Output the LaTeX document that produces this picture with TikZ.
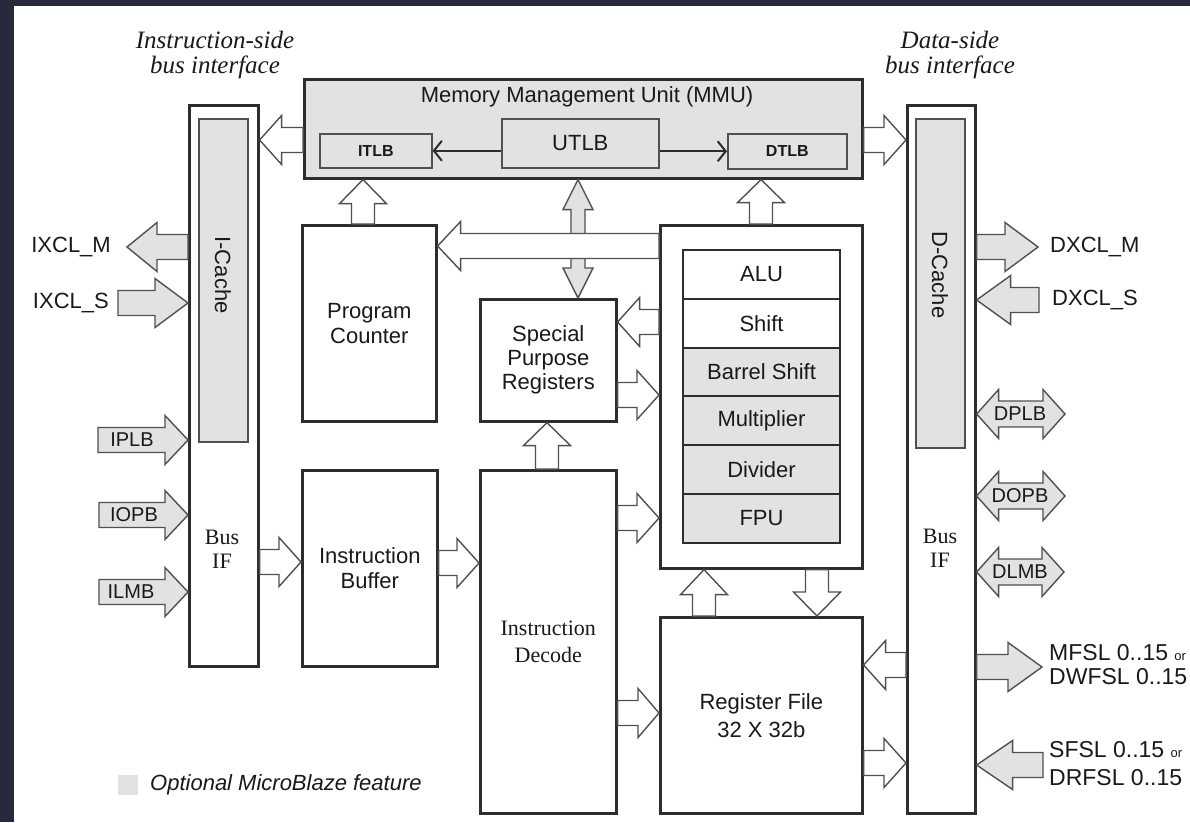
\documentclass[tikz,border=0pt]{standalone}
\usepackage{fontspec}
\setmainfont{Liberation Serif}
\setsansfont{Liberation Sans}
\usetikzlibrary{calc,arrows.meta}
\definecolor{frame}{RGB}{39,41,61}
\definecolor{opt}{RGB}{226,226,226}
\definecolor{edge}{RGB}{45,45,45}
\definecolor{aedge}{RGB}{80,80,80}
\definecolor{ink}{RGB}{25,25,25}
\newcommand\fs[2]{\fontsize{#1}{#2}\selectfont}
\def\sw{12.5pt}
\def\hw{24.5pt}
% horizontal block arrow: fill, head length, tail, tip
\newcommand\harr[4]{%
  \draw[blk,fill=#1] let \p1=#3, \p2=#4, \n1={sign(\x2-\x1)*#2} in
   (\x1,{\y1+\sw}) -- ({\x2-\n1*1pt},{\y1+\sw}) -- ({\x2-\n1*1pt},{\y1+\hw}) -- (\x2,\y1)
   -- ({\x2-\n1*1pt},{\y1-\hw}) -- ({\x2-\n1*1pt},{\y1-\sw}) -- (\x1,{\y1-\sw}) -- cycle;}
% vertical block arrow
\newcommand\varr[4]{%
  \draw[blk,fill=#1] let \p1=#3, \p2=#4, \n1={sign(\y2-\y1)*#2} in
   ({\x1+11.5pt},\y1) -- ({\x1+11.5pt},{\y2-\n1*1pt}) -- ({\x1+23.5pt},{\y2-\n1*1pt}) -- (\x1,\y2)
   -- ({\x1-23.5pt},{\y2-\n1*1pt}) -- ({\x1-11.5pt},{\y2-\n1*1pt}) -- ({\x1-11.5pt},\y1) -- cycle;}
% horizontal double block arrow: fill, head length, left tip, right tip
\newcommand\dharr[4]{%
  \draw[blk,fill=#1] let \p1=#3, \p2=#4 in
   (\x1,\y1) -- ({\x1+#2pt},{\y1+\hw}) -- ({\x1+#2pt},{\y1+13pt}) -- ({\x2-#2pt},{\y1+13pt})
   -- ({\x2-#2pt},{\y1+\hw}) -- (\x2,\y1) -- ({\x2-#2pt},{\y1-\hw}) -- ({\x2-#2pt},{\y1-13pt})
   -- ({\x1+#2pt},{\y1-13pt}) -- ({\x1+#2pt},{\y1-\hw}) -- cycle;}
% vertical double block arrow (narrow): top tip, bottom tip
\newcommand\dvarr[2]{%
  \draw[blk,fill=opt] let \p1=#1, \p2=#2 in
   (\x1,\y1) -- ({\x1+15pt},{\y1-30pt}) -- ({\x1+7pt},{\y1-30pt}) -- ({\x1+7pt},{\y2+30pt})
   -- ({\x1+15pt},{\y2+30pt}) -- (\x1,\y2) -- ({\x1-15pt},{\y2+30pt}) -- ({\x1-7pt},{\y2+30pt})
   -- ({\x1-7pt},{\y1-30pt}) -- ({\x1-15pt},{\y1-30pt}) -- cycle;}
\begin{document}
\begin{tikzpicture}[x=1pt,y=-1pt,
  blk/.style={draw=aedge, line width=1.4pt, line join=miter},
  box/.style={draw=edge, line width=2.6pt, inner sep=0pt, anchor=north west, text=ink,
    font=\sffamily\fs{22}{25}, align=center},
  sub/.style={box, draw=aedge, line width=1.6pt, fill=opt},
  row/.style={box, line width=2pt},
  lbl/.style={inner sep=0pt, text=ink, font=\sffamily\fs{22}{25}, align=center},
  albl/.style={lbl, font=\sffamily\fs{20}{22}},
  serif/.style={inner sep=0pt, text=ink, font=\rmfamily\fs{22}{24}, align=center},
  title/.style={inner sep=0pt, text=ink, font=\rmfamily\itshape\fs{25}{25}, align=center},
  thin/.style={draw=edge, line width=2pt, -{Straight Barb[length=8pt,width=20pt,line width=2pt]}}]
\fill[frame] (0,0) rectangle (1190,822);
\fill[white] (14,6) rectangle (1190,822);
\useasboundingbox (0,0) rectangle (1190,822);

% titles
\node[title] (ititle) at (215,55) {Instruction-side\\bus interface};
\node[title] (dtitle) at (950,55) {Data-side\\bus interface};

% instruction side
\node[box, minimum width=69, minimum height=561] (iout) at (188,104) {};
\node[sub, minimum width=49, minimum height=323] (icache) at (198,118) {};
\node[lbl, rotate=-90] (icachelbl) at (223,275) {I-Cache};
\node[serif] (ibus) at (222,549) {Bus\\IF};

% data side
\node[box, minimum width=68, minimum height=708] (dout) at (906,104) {};
\node[sub, minimum width=49, minimum height=329] (dcache) at (915,118) {};
\node[lbl, rotate=-90] (dcachelbl) at (940,275) {D-Cache};
\node[serif] (dbus) at (940,548) {Bus\\IF};

% MMU
\node[box, fill=opt, minimum width=558, minimum height=99] (mmu) at (303,78) {};
\node[lbl] (mmulbl) at (587,97) {Memory Management Unit (MMU)};
\node[sub, minimum width=112, minimum height=34, font=\sffamily\bfseries\fs{16}{18}] (itlb) at (319,133) {ITLB};
\node[sub, minimum width=157, minimum height=49, font=\sffamily\fs{22}{25}] (utlb) at (501,118) {UTLB};
\node[sub, minimum width=119, minimum height=35, font=\sffamily\bfseries\fs{16}{18}] (dtlb) at (727,133) {DTLB};
\draw[thin] (utlb.west |- itlb.east) -- (itlb.east);
\draw[thin] (utlb.east |- dtlb.west) -- (dtlb.west);

% core blocks
\node[box, minimum width=134, minimum height=196] (pc) at (301,224) {Program\\Counter};
\node[box, minimum width=135, minimum height=196] (ibuf) at (301,469) {Instruction\\Buffer};
\node[box, minimum width=136, minimum height=122, font=\sffamily\fs{22}{24}] (spr) at (479,298) {Special\\Purpose\\Registers};
\node[box, minimum width=136, minimum height=343, font=\rmfamily\fs{22}{27}] (idec) at (479,469) {Instruction\\Decode};
\node[box, minimum width=202, minimum height=343] (eu) at (659,224) {};
\node[row, fill=white, minimum width=157, minimum height=48.8] (alu) at (682,249) {ALU};
\node[row, fill=white, minimum width=157, minimum height=48.8] (shift) at (682,297.8) {Shift};
\node[row, fill=opt, minimum width=157, minimum height=48.8] (barrel) at (682,346.6) {Barrel Shift};
\node[row, fill=opt, minimum width=157, minimum height=48.8] (mult) at (682,395.4) {Multiplier};
\node[row, fill=opt, minimum width=157, minimum height=48.8] (div) at (682,444.2) {Divider};
\node[row, fill=opt, minimum width=157, minimum height=48.8] (fpu) at (682,493) {FPU};
\node[box, minimum width=202, minimum height=196, font=\sffamily\fs{22}{28}] (rf) at (659,616) {Register File\\32 X 32b};

% internal block arrows
\harr{white}{22}{(mmu.west |- 0,140)}{(iout.east |- 0,140)}
\harr{white}{22}{(mmu.east |- 0,140)}{(dout.west |- 0,140)}
\varr{white}{24}{(363,0 |- pc.north)}{(363,0 |- mmu.south)}
\varr{white}{23}{(761,0 |- eu.north)}{(761,0 |- mmu.south)}
\dvarr{(578,0 |- mmu.south)}{(578,0 |- spr.north)}
\harr{white}{23}{(eu.west |- 0,246)}{(pc.east |- 0,246)}
\harr{white}{22}{(eu.west |- 0,322)}{(spr.east |- 0,322)}
\harr{white}{22}{(spr.east |- 0,395)}{(eu.west |- 0,395)}
\varr{white}{23}{(547,0 |- idec.north)}{(547,0 |- spr.south)}
\harr{white}{22}{(idec.east |- 0,518)}{(eu.west |- 0,518)}
\harr{white}{22}{(iout.east |- 0,562)}{(ibuf.west |- 0,562)}
\harr{white}{22}{(ibuf.east |- 0,563)}{(idec.west |- 0,563)}
\varr{white}{25}{(704,0 |- rf.north)}{(704,0 |- eu.south)}
\varr{white}{24}{(817,0 |- eu.south)}{(817,0 |- rf.north)}
\harr{white}{21}{(idec.east |- 0,713)}{(rf.west |- 0,713)}
\harr{white}{22}{(dout.west |- 0,665)}{(rf.east |- 0,665)}
\harr{white}{22}{(rf.east |- 0,763)}{(dout.west |- 0,763)}

% instruction side external
\coordinate (ixclmtip) at (127,247);
\coordinate (ixclstail) at (118,303);
\coordinate (iplbtail) at (98,440);
\coordinate (iopbtail) at (99,515);
\coordinate (ilmbtail) at (99,592);
\harr{opt}{30}{(iout.west |- ixclmtip)}{(ixclmtip)}
\harr{opt}{33}{(ixclstail)}{(iout.west |- ixclstail)}
\harr{opt}{23}{(iplbtail)}{(iout.west |- iplbtail)}
\harr{opt}{23}{(iopbtail)}{(iout.west |- iopbtail)}
\harr{opt}{23}{(ilmbtail)}{(iout.west |- ilmbtail)}
\node[lbl, anchor=east] (ixclm) at (111,247) {IXCL\_M};
\node[lbl, anchor=east] (ixcls) at (109,303) {IXCL\_S};
\node[albl] (iplb) at (132,440) {IPLB};
\node[albl] (iopb) at (134,515) {IOPB};
\node[albl] (ilmb) at (131,592) {ILMB};

% data side external
\coordinate (dxclmtip) at (1038,247);
\coordinate (dxclstail) at (1039,300);
\coordinate (dplbtip) at (1065,414);
\coordinate (dopbtip) at (1065,496);
\coordinate (dlmbtip) at (1064,572);
\coordinate (mfsltip) at (1042,667);
\coordinate (sfsltail) at (1043,765);
\harr{opt}{33}{(dout.east |- dxclmtip)}{(dxclmtip)}
\harr{opt}{34}{(dxclstail)}{(dout.east |- dxclstail)}
\dharr{opt}{22}{(dout.east |- dplbtip)}{(dplbtip)}
\dharr{opt}{22}{(dout.east |- dopbtip)}{(dopbtip)}
\dharr{opt}{22}{(dout.east |- dlmbtip)}{(dlmbtip)}
\harr{opt}{34}{(dout.east |- mfsltip)}{(mfsltip)}
\harr{opt}{36}{(sfsltail)}{(dout.east |- sfsltail)}
\node[lbl, anchor=west] (dxclm) at (1050,247) {DXCL\_M};
\node[lbl, anchor=west] (dxcls) at (1052,300) {DXCL\_S};
\node[albl] (dplb) at (1020,414) {DPLB};
\node[albl] (dopb) at (1020,496) {DOPB};
\node[albl] (dlmb) at (1020,572) {DLMB};
\node[lbl, anchor=west, align=left, font=\sffamily\fs{23}{24}] (mfsl) at (1049,665) {MFSL 0..15 {\fs{13}{14}or}\\DWFSL 0..15};
\node[lbl, anchor=west, align=left, font=\sffamily\fs{23}{28}] (sfsl) at (1049,764) {SFSL 0..15 {\fs{13}{14}or}\\DRFSL 0..15};

% legend
\fill[opt] (118,775) rectangle (138,795);
\node[lbl, anchor=west, font=\sffamily\itshape\fs{22}{25}] (legend) at (150,785) {Optional MicroBlaze feature};
\end{tikzpicture}
\end{document}
